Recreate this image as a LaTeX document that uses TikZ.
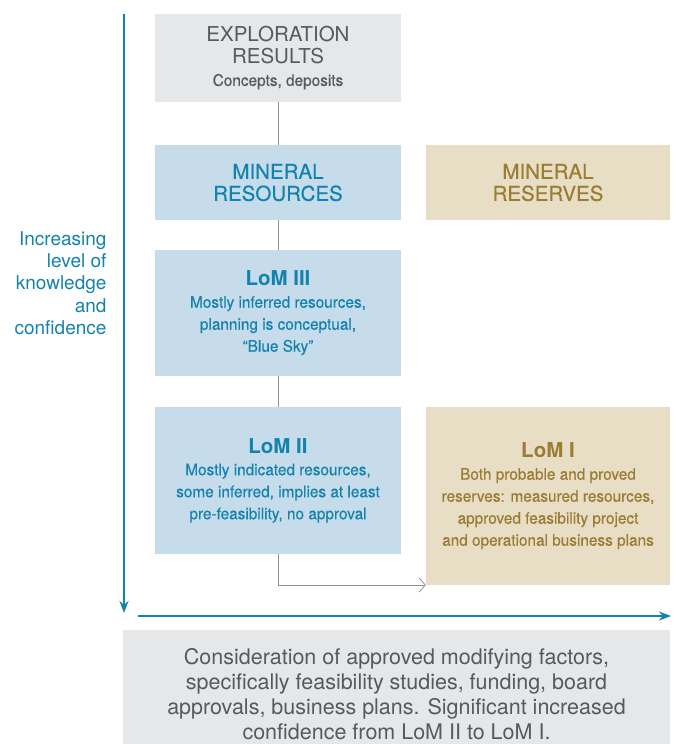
\documentclass[tikz,border=0pt]{standalone}
\usepackage{fontspec}
\setmainfont{TeX Gyre Heros}
\newfontfamily\narrowfont[FakeStretch=0.96, FakeBold=0.35]{TeX Gyre Heros}
\newfontfamily\mediumfont[FakeBold=0.35]{TeX Gyre Heros}
\usetikzlibrary{arrows.meta}
\definecolor{lomblue}{HTML}{1482AE}
\definecolor{lomgold}{HTML}{9A7C32}
\definecolor{lomgray}{HTML}{58595B}
\definecolor{fillgray}{HTML}{E6E7E8}
\definecolor{fillblue}{HTML}{C6DCEA}
\definecolor{fillbeige}{HTML}{E8DDC5}
\newcommand{\headsize}{\fontsize{20.5}{22}\selectfont}
\newcommand{\bodysize}{\fontsize{16}{22}\selectfont}
\tikzset{
	box/.style={rectangle, inner sep=0pt, align=center, minimum width=246pt, font=\narrowfont\bodysize},
	graybox/.style={box, fill=fillgray, text=lomgray},
	bluebox/.style={box, fill=fillblue, text=lomblue},
	beigebox/.style={box, fill=fillbeige, text=lomgold, minimum width=244pt},
	link/.style={draw=gray!85, line width=0.8pt},
	axis/.style={draw=lomblue, line width=2.2pt, -{Stealth[length=12pt, width=9pt]}}
}

\begin{document}
\begin{tikzpicture}[x=1pt, y=-1pt]
		\useasboundingbox (0,0) rectangle (676,744);
		\node[graybox, minimum height=88pt] at (278,58) (expl) {{\rmfamily\headsize EXPLORATION}\\{\rmfamily\headsize RESULTS}\\Concepts, deposits};
		\node[bluebox, minimum height=75pt] at (278,182.5) (minres) {{\mediumfont\headsize MINERAL}\\{\mediumfont\headsize RESOURCES}};
		\node[beigebox, minimum height=75pt] at (548,182.5) (minrsv) {{\mediumfont\headsize MINERAL}\\{\mediumfont\headsize RESERVES}};
		\node[bluebox, minimum height=126pt] at (278,313) (lom3) {{\rmfamily\headsize\bfseries LoM III}\\Mostly inferred resources,\\planning is conceptual,\\“Blue Sky”};
		\node[bluebox, minimum height=147pt] at (278,480.5) (lom2) {{\rmfamily\headsize\bfseries LoM II}\\Mostly indicated resources,\\some inferred, implies at least\\pre-feasibility, no approval};
		\node[beigebox, minimum height=178pt] at (548,496) (lom1) {{\rmfamily\headsize\bfseries LoM I}\\Both probable and proved\\reserves: measured resources,\\approved feasibility project\\and operational business plans};
		\node[graybox, minimum width=547pt, minimum height=128pt, font=\rmfamily\fontsize{21.5}{25}\selectfont] at (396.5,694) (consid) {Consideration of approved modifying factors,\\specifically feasibility studies, funding, board\\approvals, business plans. Significant increased\\confidence from LoM II to LoM I.};
		\node[anchor=north east, align=right, text=lomblue, font=\fontsize{19}{22.3}\selectfont] at (110,228) (incr) {Increasing\\level of\\knowledge\\and\\confidence};
		
		%Axes
		\coordinate (vtop) at (124,14);
		\coordinate (vbot) at (124,613);
		\coordinate (hleft) at (138,616);
		\coordinate (hright) at (671,616);
		\draw[axis] (vtop) -- (vbot);
		\draw[axis] (hleft) -- (hright);
		
		%Lines
		\draw[link] (expl) -- (minres);
		\draw[link] (minres) -- (lom3);
		\draw[link] (lom3) -- (lom2);
		\draw[link, -{Straight Barb[length=6pt, width=14pt]}] (lom2.south) |- (lom1.south west |- 0,585);
		
	\end{tikzpicture}
\end{document}
